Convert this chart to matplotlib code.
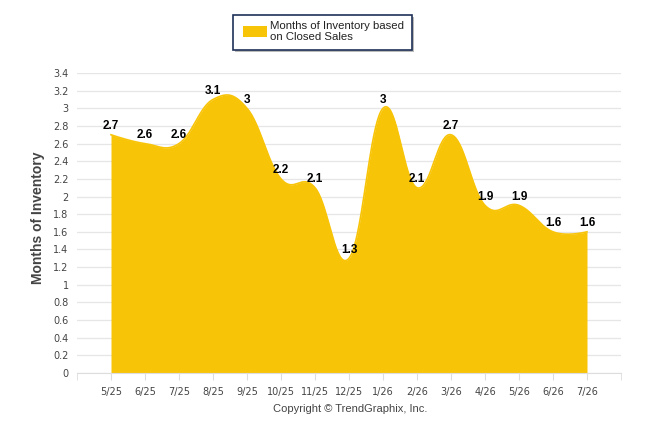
import numpy as np
import matplotlib
matplotlib.use("Agg")
import matplotlib.pyplot as plt
from matplotlib.patches import Rectangle

categories = ["5/25", "6/25", "7/25", "8/25", "9/25", "10/25", "11/25", "12/25",
              "1/26", "2/26", "3/26", "4/26", "5/26", "6/26", "7/26"]
values = [2.7, 2.6, 2.6, 3.1, 3.0, 2.2, 2.1, 1.3, 3.0, 2.1, 2.7, 1.9, 1.9, 1.6, 1.6]
yticks = [0, 0.2, 0.4, 0.6, 0.8, 1, 1.2, 1.4, 1.6, 1.8, 2, 2.2, 2.4, 2.6, 2.8, 3, 3.2, 3.4]
series_name = "Months of Inventory based\non Closed Sales"
ylabel = "Months of Inventory"
copyright_text = "Copyright \u00a9 TrendGraphix, Inc."

YELLOW = "#F8C408"

def smooth_spline(xs, ys, n=40):
    xs = np.asarray(xs, float); ys = np.asarray(ys, float)
    N = len(xs)
    sm = 1.5; den = sm + 1
    left = [None] * N; right = [None] * N
    for i in range(N):
        x, y = xs[i], ys[i]
        if 0 < i < N - 1:
            lx, ly = xs[i - 1], ys[i - 1]
            nx, ny = xs[i + 1], ys[i + 1]
            lcx = (sm * x + lx) / den; lcy = (sm * y + ly) / den
            rcx = (sm * x + nx) / den; rcy = (sm * y + ny) / den
            corr = ((rcy - lcy) * (rcx - x)) / (rcx - lcx) + y - rcy
            lcy += corr; rcy += corr
            left[i] = (lcx, lcy); right[i] = (rcx, rcy)
        else:
            left[i] = (x, y); right[i] = (x, y)
    px = [xs[0]]; py = [ys[0]]
    t = np.linspace(0, 1, n)[1:]
    for i in range(1, N):
        p0 = (xs[i - 1], ys[i - 1]); p1 = right[i - 1]; p2 = left[i]; p3 = (xs[i], ys[i])
        bx = (1 - t) ** 3 * p0[0] + 3 * (1 - t) ** 2 * t * p1[0] + 3 * (1 - t) * t ** 2 * p2[0] + t ** 3 * p3[0]
        by = (1 - t) ** 3 * p0[1] + 3 * (1 - t) ** 2 * t * p1[1] + 3 * (1 - t) * t ** 2 * p2[1] + t ** 3 * p3[1]
        px.extend(bx); py.extend(by)
    return np.array(px), np.array(py)

fig = plt.figure(figsize=(6.46, 4.34), dpi=100)
ax = fig.add_axes([77 / 646, 1 - 373 / 434, (621 - 77) / 646, 300 / 434])

x = np.arange(len(categories))
sx, sy = smooth_spline(x, values)
ax.fill_between(sx, 0, sy, color=YELLOW, lw=0, zorder=2)
ax.plot(sx, sy, color=YELLOW, lw=1.2, zorder=3)

for xi, v in zip(x, values):
    ax.annotate(f"{v:g}", (xi, v), xytext=(0, 2.0), textcoords="offset points",
                ha="center", va="bottom", fontsize=8.5, fontweight="bold",
                color="black", family="Liberation Sans", zorder=5)

ax.set_xlim(-1, len(categories))
ax.set_ylim(0, 3.4)
ax.set_yticks(yticks)
ax.set_yticklabels([f"{t:g}" for t in yticks], fontsize=7, color="#444444", family="DejaVu Sans")
ax.set_xticks(x)
ax.set_xticklabels(categories, fontsize=7, color="#444444", family="DejaVu Sans")
ax.set_xticks(np.arange(-1, len(categories) + 1), minor=True)
ax.tick_params(axis="x", which="major", length=5, color="#DDDDDD", pad=5)
ax.tick_params(axis="x", which="minor", length=5, color="#DDDDDD")
ax.tick_params(axis="y", length=0, pad=6)
ax.grid(axis="y", color="#E6E6E6", lw=0.9, zorder=0)
for s in ["top", "right", "left"]:
    ax.spines[s].set_visible(False)
ax.spines["bottom"].set_color("#DDDDDD")
ax.spines["bottom"].set_zorder(4)
ax.set_axisbelow(True)

fig.text(38 / 646, 1 - 218 / 434, ylabel, rotation=90, ha="center", va="center",
         fontsize=10, fontweight="bold", color="#444444", family="Liberation Sans")
fig.text(350 / 646, 1 - 409 / 434, copyright_text, ha="center", va="center",
         fontsize=8, color="#444444", family="Liberation Sans")

# legend box
W, H = 646, 434
shadow = Rectangle((235 / W, 1 - 52 / H), (412 - 233) / W, (50 - 15) / H,
                   transform=fig.transFigure, facecolor="#BBBBBB", edgecolor="none", zorder=1)
box = Rectangle((233 / W, 1 - 50 / H), (412 - 233) / W, (50 - 15) / H,
                transform=fig.transFigure, facecolor="white", edgecolor="#1F3057", lw=1.2, zorder=2)
fig.patches.extend([shadow, box])
swatch = Rectangle((243 / W, 1 - 37 / H), 24 / W, 11 / H, transform=fig.transFigure,
                   facecolor=YELLOW, edgecolor="none", zorder=3)
fig.patches.append(swatch)
fig.text(270 / W, 1 - 31.5 / H, series_name, ha="left", va="center", fontsize=8.2,
         color="#222222", family="Liberation Sans", linespacing=1.1)

fig.savefig("out.png", dpi=100)
